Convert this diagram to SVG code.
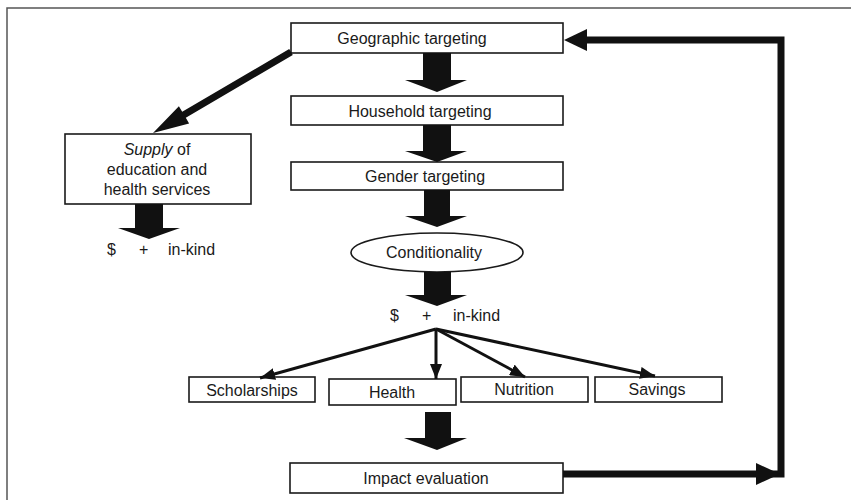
<svg xmlns="http://www.w3.org/2000/svg" width="851" height="500" viewBox="0 0 851 500">
<style>
text{font-family:"Liberation Sans",Arial,sans-serif;font-size:16px;fill:#1a1a1a}
.box{fill:#fff;stroke:#1a1a1a;stroke-width:1.6}
.blk{fill:#111}
.thin{stroke:#111;stroke-width:3;fill:none}
.frame{stroke:#555;stroke-width:1.5;fill:none}
</style>
<defs>
<marker id="tri" markerUnits="userSpaceOnUse" markerWidth="15" markerHeight="12" refX="15" refY="6" orient="auto">
<path d="M0,0 L15,6 L0,12 z" fill="#111"/>
</marker>
</defs>
<rect width="851" height="500" fill="#fff"/>
<path class="frame" d="M7,500 V8 H851"/>

<g id="geographic"><rect class="box" x="291" y="23" width="272" height="30"/><text x="412" y="44" text-anchor="middle">Geographic targeting</text></g>
<g id="household"><rect class="box" x="291" y="96" width="272" height="29"/><text x="420" y="117" text-anchor="middle">Household targeting</text></g>
<g id="gender"><rect class="box" x="291" y="162" width="272" height="28"/><text x="425" y="182" text-anchor="middle">Gender targeting</text></g>
<g id="conditionality"><ellipse class="box" cx="437" cy="252.5" rx="86" ry="19.5"/><text x="434" y="258" text-anchor="middle">Conditionality</text></g>
<g id="money-center"><text x="390" y="321">$</text><text x="422" y="321">+</text><text x="453" y="321">in-kind</text></g>
<g id="supply"><rect class="box" x="65" y="134" width="186" height="70"/>
<text x="157" y="155" text-anchor="middle"><tspan font-style="italic">Supply</tspan> of</text>
<text x="157" y="175" text-anchor="middle">education and</text>
<text x="157" y="195" text-anchor="middle">health services</text></g>
<g id="money-left"><text x="107" y="255">$</text><text x="139" y="255">+</text><text x="168" y="255">in-kind</text></g>
<g id="scholarships"><rect class="box" x="189" y="377" width="126" height="25"/><text x="252" y="396" text-anchor="middle">Scholarships</text></g>
<g id="health"><rect class="box" x="329" y="379" width="127" height="26"/><text x="392" y="398" text-anchor="middle">Health</text></g>
<g id="nutrition"><rect class="box" x="461" y="377" width="127" height="25"/><text x="524" y="395" text-anchor="middle">Nutrition</text></g>
<g id="savings"><rect class="box" x="595" y="377" width="127" height="25"/><text x="657" y="395" text-anchor="middle">Savings</text></g>
<g id="impact"><rect class="box" x="290" y="463" width="273" height="30"/><text x="426" y="484" text-anchor="middle">Impact evaluation</text></g>

<g id="connectors">
<polygon class="blk" points="423,53 451,53 451,80 467,80 437,92 405,80 423,80"/>
<polygon class="blk" points="423,125 451,125 451,151 467,151 437,162 405,151 423,151"/>
<polygon class="blk" points="424,190 450,190 450,216 467,216 437,227 405,216 424,216"/>
<polygon class="blk" points="424,272 451,272 451,295 467,295 437,306 405,295 424,295"/>
<polygon class="blk" points="425,412 451,412 451,438 467,438 437,450 404,438 425,438"/>
<polygon class="blk" points="135,204 163,204 163,228 180,228 149,239 118,228 135,228"/>
<polygon class="blk" points="289.2,49 292.8,55 185.8,117.8 189.1,123.4 153,133 178.9,106.2 182.2,111.8"/>
<line class="thin" x1="436" y1="329" x2="260" y2="378" marker-end="url(#tri)"/>
<line class="thin" x1="436" y1="329" x2="436" y2="379" marker-end="url(#tri)"/>
<line class="thin" x1="436" y1="329" x2="525" y2="377" marker-end="url(#tri)"/>
<line class="thin" x1="436" y1="329" x2="655" y2="376" marker-end="url(#tri)"/>
<path d="M563,474 H781 V40 H580" fill="none" stroke="#111" stroke-width="7" stroke-linejoin="miter"/>
<polygon class="blk" points="756,463 756,485 780,474"/>
<polygon class="blk" points="587,29 587,51 564,40"/>
</g>
</svg>
